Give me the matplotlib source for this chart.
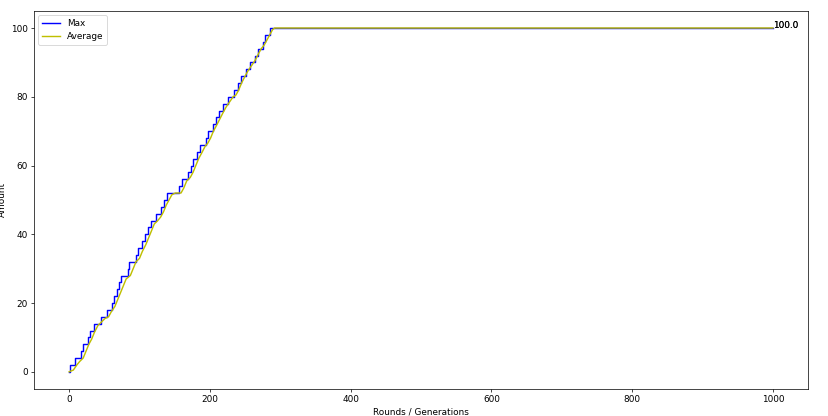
import numpy as np
import matplotlib
matplotlib.use('Agg')
import matplotlib.pyplot as plt

# Rodada em que o maximo sobe e o valor atingido
max_rounds = [0, 1, 8, 17, 20, 27, 30, 35, 45, 54, 61, 64, 68, 71, 74, 84, 85, 95, 98,
              104, 108, 112, 116, 123, 130, 135, 139, 156, 160, 169, 173, 176, 182, 186,
              194, 197, 204, 208, 213, 218, 226, 234, 240, 244, 251, 257, 264, 268, 275,
              279, 285, 1000]
max_values = [0, 2, 4, 6, 8, 10, 12, 14, 16, 18, 20, 22, 24, 26, 28, 30, 32, 34, 36,
              38, 40, 42, 44, 46, 48, 50, 52, 54, 56, 58, 60, 62, 64, 66,
              68, 70, 72, 74, 76, 78, 80, 82, 84, 86, 88, 90, 92, 94, 96,
              98, 100, 100]

# Media
avg_rounds = [0, 6, 11, 15, 20, 24, 28, 32, 36, 41, 46, 51, 56, 60, 65, 69, 73, 77, 81,
              87, 91, 95, 100, 104, 109, 113, 117, 121, 126, 130, 134, 138, 142, 146, 151,
              159, 163, 167, 172, 176, 180, 184, 188, 193, 197, 201, 205, 209, 214, 219,
              223, 228, 233, 237, 241, 245, 250, 254, 259, 264, 269, 273, 277, 281, 285,
              289, 292, 1000]
avg_values = [0, 0.5, 2, 3, 4, 6, 8, 9.5, 11.5, 13.5, 14.5, 15.5, 16, 17.5, 19, 21, 23,
              25, 27, 28, 30, 32, 33, 35, 37, 39, 41, 43, 44, 45, 46.5, 48.5, 50, 51.5,
              52, 52, 53.5, 55.5, 56.5, 58, 60, 62, 63.5, 65.5, 66.5, 68, 70, 71.5, 73.5,
              75.5, 77, 78.5, 80, 80.5, 82, 84, 86, 87.5, 89, 90.5, 92.5, 94, 95, 96.5,
              98, 99.5, 100, 100]

fig = plt.figure(figsize=(828 / 64, 416 / 64), dpi=64)
ax = fig.add_axes([0.041, 0.065, 0.935, 0.909])

ax.plot(max_rounds, max_values, color='b', drawstyle='steps-post', linewidth=1.6, label='Max')
ax.plot(avg_rounds, avg_values, color='y', linewidth=1.6, label='Average')

ax.text(max_rounds[-1], max_values[-1], str(float(max_values[-1])))
ax.text(avg_rounds[-1], avg_values[-1], str(float(avg_values[-1])))

ax.set_xlabel('Rounds / Generations')
ax.set_ylabel('Amount')
ax.legend(loc='upper left')

fig.savefig('out.png', dpi=64)
